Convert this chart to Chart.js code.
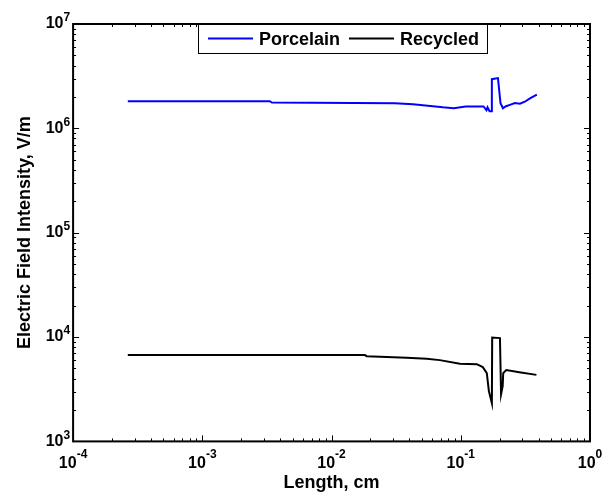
<!DOCTYPE html>
<html>
<head>
<meta charset="utf-8">
<title>Electric Field Intensity</title>
<script src="https://cdn.jsdelivr.net/npm/chart.js@4.4.1/dist/chart.umd.min.js"></script>
<style>
    html, body { margin: 0; padding: 0; background: #fff; }
    canvas { display: block; }
</style>
</head>
<body>
<canvas id="fieldChart" width="606" height="495"></canvas>
<script>
// values (length in cm, field in V/m)
const porcelainLength = [2.65e-4, 3.33e-3, 3.45e-3, 0.0309, 0.0426, 0.0556, 0.0726, 0.0883, 0.109, 0.150,
    0.158, 0.161, 0.167, 0.173, 0.174, 0.194, 0.203, 0.212, 0.224, 0.240, 0.262, 0.287, 0.313, 0.343, 0.388];
const porcelainField = [1.82e6, 1.82e6, 1.77e6, 1.74e6, 1.70e6, 1.65e6, 1.59e6, 1.56e6, 1.62e6, 1.62e6,
    1.49e6, 1.59e6, 1.46e6, 1.46e6, 2.96e6, 3.03e6, 1.74e6, 1.56e6, 1.63e6, 1.68e6, 1.75e6, 1.72e6, 1.80e6, 1.94e6, 2.11e6];

const recycledLength = [2.65e-4, 0.0181, 0.0187, 0.0382, 0.0545, 0.0688, 0.0984, 0.133, 0.148, 0.159,
    0.165, 0.174, 0.175, 0.201, 0.205, 0.211, 0.213, 0.225, 0.284, 0.385];
const recycledField = [6.72e3, 6.72e3, 6.56e3, 6.32e3, 6.18e3, 6.01e3, 5.54e3, 5.50e3, 5.15e3, 4.51e3,
    3.03e3, 2.32e3, 9.9e3, 9.77e3, 2.83e3, 3.38e3, 4.51e3, 4.82e3, 4.60e3, 4.34e3];

const xTickExponents = [-4, -3, -2, -1, 0];
const yTickExponents = [3, 4, 5, 6, 7];

const FONT = "'Liberation Sans', Arial, sans-serif";

function toPoints(xs, ys) {
    return xs.map((x, i) => ({ x: x, y: ys[i] }));
}

// MATLAB-like box: inward ticks on all sides, 10^n labels, framed legend
const matlabFrame = {
    id: 'matlabFrame',
    afterDraw(chart) {
        const ctx = chart.ctx;
        const { left, right, top, bottom } = chart.chartArea;
        const xs = chart.scales.x;
        const ys = chart.scales.y;
        ctx.save();

        // tick marks
        ctx.strokeStyle = '#000';
        ctx.lineWidth = 1;
        ctx.beginPath();
        for (let d = xTickExponents[0]; d < xTickExponents[xTickExponents.length - 1]; d++) {
            for (let m = 1; m <= 9; m++) {
                const px = Math.round(xs.getPixelForValue(m * Math.pow(10, d))) + 0.5;
                const len = m === 1 ? 6 : 3;
                ctx.moveTo(px, bottom); ctx.lineTo(px, bottom - len);
                ctx.moveTo(px, top); ctx.lineTo(px, top + len);
            }
        }
        for (let d = yTickExponents[0]; d < yTickExponents[yTickExponents.length - 1]; d++) {
            for (let m = 1; m <= 9; m++) {
                const py = Math.round(ys.getPixelForValue(m * Math.pow(10, d))) + 0.5;
                const len = m === 1 ? 6 : 3;
                ctx.moveTo(left, py); ctx.lineTo(left + len, py);
                ctx.moveTo(right, py); ctx.lineTo(right - len, py);
            }
        }
        ctx.stroke();

        // frame
        ctx.lineWidth = 2;
        ctx.strokeRect(left, top, right - left, bottom - top);

        // tick labels
        const big = 'bold 16px ' + FONT;
        const small = 'bold 12px ' + FONT;
        ctx.fillStyle = '#000';
        ctx.textBaseline = 'middle';
        ctx.textAlign = 'left';
        xTickExponents.forEach(e => {
            const px = xs.getPixelForValue(Math.pow(10, e));
            ctx.font = big;
            const w10 = ctx.measureText('10').width;
            ctx.font = small;
            const we = ctx.measureText(String(e)).width;
            const x0 = px - (w10 + we) / 2;
            ctx.font = big;
            ctx.fillText('10', x0, bottom + 22);
            ctx.font = small;
            ctx.fillText(String(e), x0 + w10, bottom + 13);
        });
        yTickExponents.forEach(e => {
            const py = ys.getPixelForValue(Math.pow(10, e));
            ctx.font = small;
            const we = ctx.measureText(String(e)).width;
            ctx.font = big;
            const w10 = ctx.measureText('10').width;
            const x1 = left - 3;
            ctx.fillText('10', x1 - we - w10, py);
            ctx.font = small;
            ctx.fillText(String(e), x1 - we, py - 6);
        });

        // legend
        const boxL = 198, boxT = 24, boxR = 488, boxB = 54;
        ctx.fillStyle = '#fff';
        ctx.fillRect(boxL, boxT, boxR - boxL, boxB - boxT);
        ctx.lineWidth = 1;
        ctx.strokeStyle = '#000';
        ctx.strokeRect(boxL + 0.5, boxT + 0.5, boxR - boxL - 1, boxB - boxT - 1);
        const starts = [208, 349];
        ctx.font = 'bold 18px ' + FONT;
        ctx.textBaseline = 'middle';
        chart.data.datasets.forEach((ds, i) => {
            const sx = starts[i];
            ctx.strokeStyle = ds.borderColor;
            ctx.lineWidth = 2;
            ctx.beginPath();
            ctx.moveTo(sx, 38.5);
            ctx.lineTo(sx + 45, 38.5);
            ctx.stroke();
            ctx.fillStyle = '#000';
            ctx.fillText(ds.label, sx + 51, 40);
        });

        ctx.restore();
    }
};

const titleFont = { family: FONT, size: 18, weight: 'bold' };

new Chart(document.getElementById('fieldChart').getContext('2d'), {
    type: 'line',
    data: {
        datasets: [
            {
                label: 'Porcelain',
                data: toPoints(porcelainLength, porcelainField),
                borderColor: '#0000ff',
                borderWidth: 2,
                pointRadius: 0,
                tension: 0
            },
            {
                label: 'Recycled',
                data: toPoints(recycledLength, recycledField),
                borderColor: '#000000',
                borderWidth: 2,
                pointRadius: 0,
                tension: 0
            }
        ]
    },
    options: {
        responsive: false,
        animation: false,
        layout: {
            padding: { left: 4, right: 16, top: 24, bottom: 0 }
        },
        plugins: {
            legend: { display: false },
            tooltip: { enabled: false }
        },
        scales: {
            x: {
                type: 'logarithmic',
                min: 1e-4,
                max: 1,
                grid: { display: false, drawTicks: false },
                border: { display: false },
                ticks: { display: false },
                title: {
                    display: true,
                    text: 'Length, cm',
                    color: '#000',
                    font: titleFont,
                    padding: { top: 31, bottom: 1 }
                }
            },
            y: {
                type: 'logarithmic',
                min: 1e3,
                max: 1e7,
                grid: { display: false, drawTicks: false },
                border: { display: false },
                ticks: { display: false },
                title: {
                    display: true,
                    text: 'Electric Field Intensity, V/m',
                    color: '#000',
                    font: titleFont,
                    padding: { top: 10, bottom: 37.5 }
                }
            }
        }
    },
    plugins: [matlabFrame]
});
</script>
</body>
</html>
